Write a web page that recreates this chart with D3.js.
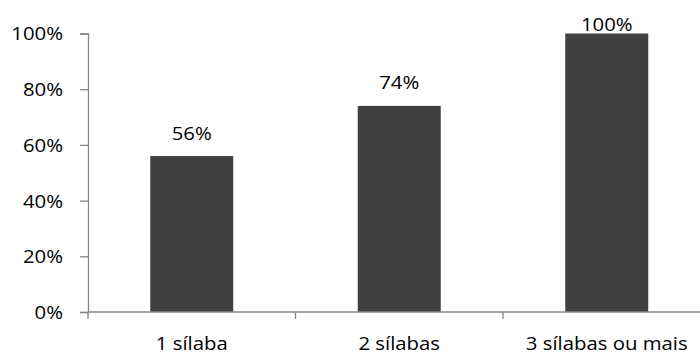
<!DOCTYPE html>
<html><head><meta charset="utf-8">
<script src="https://cdn.jsdelivr.net/npm/d3@7"></script>
<style>
body{margin:0;background:#fff;}
text{font-family:"Open Sans",sans-serif;font-size:18px;fill:#000;}
</style></head>
<body><svg id="c" width="700" height="354"></svg>
<script>
const categories = ["1 sílaba", "2 sílabas", "3 sílabas ou mais"];
const values = [0.56, 0.74, 1.00];
const valueLabels = ["56%", "74%", "100%"];
const yTicks = [0, 0.2, 0.4, 0.6, 0.8, 1.0];

const W = 700, H = 354;
const left = 88, plotTop = 33.5, plotBottom = 312, step = 207.5;
const stretch = 1.13;
const svg = d3.select("#c");

const x = d3.scaleBand().domain(categories)
  .range([left, left + step * categories.length])
  .paddingInner(0.6).paddingOuter(0.3);
const y = d3.scaleLinear().domain([0, 1]).range([plotBottom, plotTop]);

function stretchText(sel){
  sel.each(function(){
    const n = this.getComputedTextLength();
    d3.select(this).attr("textLength", n * stretch).attr("lengthAdjust", "spacingAndGlyphs");
  });
}

const axisColor = "#868686";

// bars
svg.append("g").selectAll("rect").data(values).join("rect")
  .attr("x", (d, i) => x(categories[i]))
  .attr("width", x.bandwidth())
  .attr("y", d => y(d))
  .attr("height", d => y(0) - y(d))
  .attr("fill", "#404040");

// y axis
const yAxis = svg.append("g").attr("transform", `translate(${left},0)`)
  .call(d3.axisLeft(y).tickValues(yTicks).tickSize(8).tickFormat(d3.format(".0%")).tickPadding(17));
yAxis.attr("font-family", null).attr("font-size", null);
yAxis.select(".domain").attr("stroke", axisColor).attr("stroke-width", 1.3);
yAxis.selectAll(".tick line").attr("stroke", axisColor).attr("stroke-width", 1.3);
yAxis.selectAll(".tick text").style("fill", "#000").attr("dy", "0.36em").call(stretchText);

// x axis line
svg.append("line").attr("x1", left).attr("x2", W).attr("y1", plotBottom).attr("y2", plotBottom)
  .attr("stroke", axisColor).attr("stroke-width", 1.3);
// x ticks at band boundaries
const bounds = d3.range(categories.length + 1).map(i => left + i * x.step());
svg.append("g").selectAll("line").data(bounds.filter(b => b < W)).join("line")
  .attr("x1", d => d).attr("x2", d => d).attr("y1", plotBottom).attr("y2", plotBottom + 7)
  .attr("stroke", axisColor).attr("stroke-width", 1.3);

// x labels
svg.append("g").selectAll("text").data(categories).join("text")
  .attr("x", d => x(d) + x.bandwidth() / 2)
  .attr("y", 350)
  .attr("text-anchor", "middle")
  .text(d => d)
  .call(stretchText);

// value labels
svg.append("g").selectAll("text").data(values).join("text")
  .attr("x", (d, i) => x(categories[i]) + x.bandwidth() / 2)
  .attr("y", d => Math.max(y(d) - 16.5, 30.5))
  .attr("text-anchor", "middle")
  .text((d, i) => valueLabels[i])
  .call(stretchText);
</script></body></html>
